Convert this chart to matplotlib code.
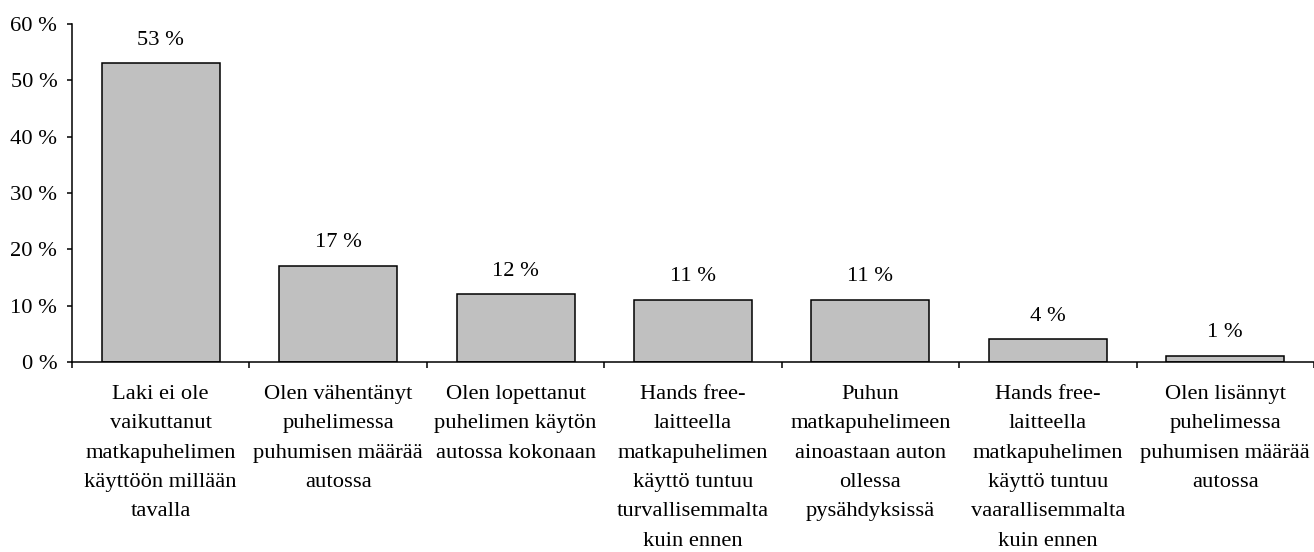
import matplotlib.pyplot as plt
from matplotlib.ticker import FixedLocator

plt.rcParams["font.family"] = ["Liberation Serif", "DejaVu Serif"]

categories = [
    "Laki ei ole\nvaikuttanut\nmatkapuhelimen\nkäyttöön millään\ntavalla",
    "Olen vähentänyt\npuhelimessa\npuhumisen määrää\nautossa",
    "Olen lopettanut\npuhelimen käytön\nautossa kokonaan",
    "Hands free-\nlaitteella\nmatkapuhelimen\nkäyttö tuntuu\nturvallisemmalta\nkuin ennen",
    "Puhun\nmatkapuhelimeen\nainoastaan auton\nollessa\npysähdyksissä",
    "Hands free-\nlaitteella\nmatkapuhelimen\nkäyttö tuntuu\nvaarallisemmalta\nkuin ennen",
    "Olen lisännyt\npuhelimessa\npuhumisen määrää\nautossa",
]
values = [53, 17, 12, 11, 11, 4, 1]
y_ticks = [0, 10, 20, 30, 40, 50, 60]
y_labels = ["0 %", "10 %", "20 %", "30 %", "40 %", "50 %", "60 %"]

FS = 16.2

fig = plt.figure(figsize=(13.14, 5.52), dpi=100)
ax = fig.add_axes([0.0548, 0.3442, 0.9452, 0.6123])

x = list(range(len(values)))
ax.bar(x, values, width=0.665, color="#c0c0c0", edgecolor="black", linewidth=1.1)

for xi, v in zip(x, values):
    ax.annotate(f"{v} %", (xi, v), xytext=(0, 10), textcoords="offset points",
                ha="center", va="bottom", fontsize=FS)

ax.set_xlim(-0.5, len(values) - 0.5)
ax.set_ylim(0, 60)
ax.set_yticks(y_ticks)
ax.set_yticklabels(y_labels, fontsize=FS)
ax.set_xticks(x)
ax.set_xticklabels(categories, fontsize=FS, linespacing=1.74)
ax.xaxis.set_minor_locator(FixedLocator([i - 0.5 for i in range(len(values) + 1)]))

ax.tick_params(axis="x", which="major", length=0, pad=16.5)
ax.tick_params(axis="x", which="minor", length=4.5, width=1.1, direction="out")
ax.tick_params(axis="y", length=3.6, width=1.1, pad=7, direction="out")

for side in ["top", "right"]:
    ax.spines[side].set_visible(False)
ax.spines["left"].set_linewidth(1.1)
ax.spines["bottom"].set_linewidth(1.1)

fig.savefig("out.png", dpi=100)
